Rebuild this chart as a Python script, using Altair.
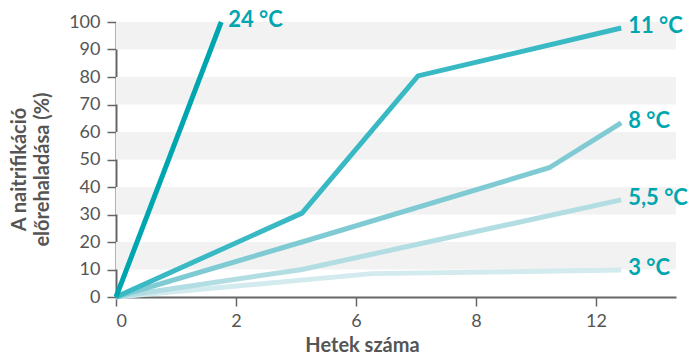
import altair as alt
import pandas as pd

# ---- data ----
series_names = ["3 °C", "5,5 °C", "8 °C", "11 °C", "24 °C"]
series_colors = ["#d3ebee", "#b2dee3", "#80cbd3", "#38b9c3", "#00a6af"]
x_3 = [0, 6.4, 12.63]
y_3 = [0, 8.5, 9.8]
x_55 = [0, 4.65, 12.63]
y_55 = [0, 10, 35.3]
x_8 = [0, 4.65, 10.83, 12.63]
y_8 = [0, 20, 47, 63.3]
x_11 = [0, 4.65, 7.55, 12.63]
y_11 = [0, 30.5, 80.4, 97.8]
x_24 = [0, 2.63]
y_24 = [0, 100]
series_x = [x_3, x_55, x_8, x_11, x_24]
series_y = [y_3, y_55, y_8, y_11, y_24]

x_tick_pos = [0, 3, 6, 9, 12]
x_tick_labels = ["0", "2", "6", "8", "12"]
y_ticks = [0, 10, 20, 30, 40, 50, 60, 70, 80, 90, 100]
band_lo = [10, 30, 50, 70, 90]
band_hi = [20, 40, 60, 80, 100]

FONT = "Lato"
LABEL_COLOR = "#00a6af"
AXIS_COLOR = "#666666"
TEXT_GREY = "#555555"

label_expr = " : ".join(
    f"datum.value == {p} ? '{l}'" for p, l in zip(x_tick_pos, x_tick_labels)
) + " : ''"

xscale = alt.Scale(domain=[0, 14], nice=False, zero=False)
yscale = alt.Scale(domain=[0, 100], nice=False)

x_axis = alt.Axis(values=x_tick_pos, labelExpr=label_expr, title="Hetek száma",
                  titleX=246, titleY=48, titleBaseline="middle", titleAlign="center",
                  labelPadding=6, labelOverlap=False)
y_axis = alt.Axis(values=y_ticks, title=["A naitrifikáció", "előrehaladása (%)"],
                  titleAngle=-90, titleX=-97, titleY=147, titleAlign="center",
                  titleBaseline="middle", titleLineHeight=23, labelPadding=7,
                  labelOverlap=False)

def X(field):
    return alt.X(field, scale=xscale, axis=x_axis)

def Y(field):
    return alt.Y(field, scale=yscale, axis=y_axis)

axes_layer = alt.Chart(pd.DataFrame({"x": [0], "y": [0]})).mark_point(opacity=0).encode(
    x=X("x:Q"), y=Y("y:Q"),
)

bands = pd.DataFrame({"lo": band_lo, "hi": band_hi})
band_layer = alt.Chart(bands).mark_rect(color="#f2f2f2").encode(
    x=alt.value(0), x2=alt.value(560),
    y=Y("lo:Q"), y2="hi:Q",
)

layers = [axes_layer, band_layer]
end_rows = []
for name, color, xs, ys in zip(series_names, series_colors, series_x, series_y):
    df = pd.DataFrame({"x": xs, "y": ys, "s": name})
    layers.append(
        alt.Chart(df).mark_line(color=color, strokeWidth=5, strokeJoin="miter").encode(
            x=X("x:Q"), y=Y("y:Q"), order="x:Q"
        )
    )
    end_rows.append({"x": xs[-1], "y": ys[-1], "s": name})

labels = alt.Chart(pd.DataFrame(end_rows)).mark_text(
    align="left", baseline="middle", dx=7, dy=-2, font=FONT, fontWeight="bold",
    fontSize=22, color=LABEL_COLOR
).encode(x=X("x:Q"), y=Y("y:Q"), text="s:N")
layers.append(labels)

chart = alt.layer(*layers).properties(
    width=560, height=275,
    padding={"left": 116, "top": 22, "right": 15, "bottom": 57},
    autosize=alt.AutoSizeParams(type="none"),
).configure_view(stroke=None).configure_axis(
    grid=False, domainColor=AXIS_COLOR, domainWidth=2, tickColor=AXIS_COLOR,
    tickWidth=1.5, tickSize=9, labelColor=TEXT_GREY, labelFont=FONT, labelFontSize=18,
    titleColor=TEXT_GREY, titleFont=FONT, titleFontSize=20, titleFontWeight="bold",
)

chart.save("out.html", embed_options={"renderer": "svg", "actions": False})
